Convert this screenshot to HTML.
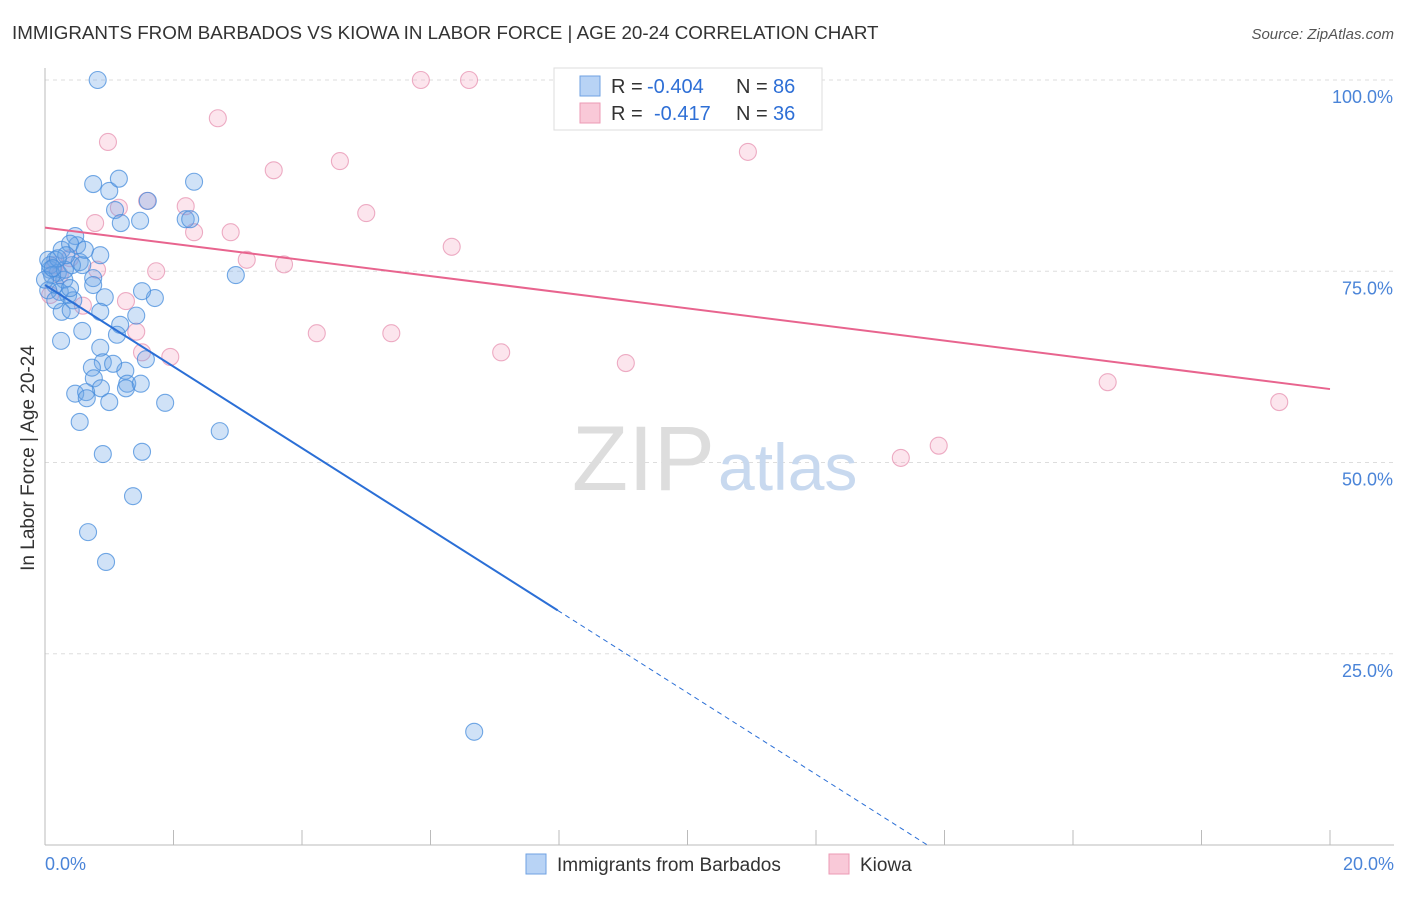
<!DOCTYPE html>
<html><head><meta charset="utf-8"><style>
body{margin:0;background:#fff;font-family:"Liberation Sans",sans-serif}
svg text{font-family:"Liberation Sans",sans-serif}
</style></head><body>
<svg id="chart" width="1406" height="892" xmlns="http://www.w3.org/2000/svg">
<text x="12" y="39" font-size="18.8" fill="#333">IMMIGRANTS FROM BARBADOS VS KIOWA IN LABOR FORCE | AGE 20-24 CORRELATION CHART</text>
<text x="1394" y="39" font-size="15" fill="#555" text-anchor="end" font-style="italic">Source: ZipAtlas.com</text>
<g id="grid"></g>
<text x="715" y="490" font-size="92" fill="#ddd" text-anchor="end" font-family="Liberation Serif">ZIP</text>
<text x="718" y="490" font-size="66" fill="#c8d9ef">atlas</text>
<g id="axes"></g>
<g id="marks"></g>
<text transform="translate(34,458) rotate(-90)" font-size="19" fill="#333" text-anchor="middle">In Labor Force | Age 20-24</text>
<g>
<rect x="554" y="68" width="268" height="62" fill="#fff" stroke="#ddd"/>
<rect x="580" y="76" width="20" height="20" fill="#b8d3f5" stroke="#6fa2e2"/>
<rect x="580" y="103" width="20" height="20" fill="#f9c9d8" stroke="#ec9ab5"/>
<text x="611" y="93" font-size="20" fill="#333">R =</text>
<text x="647" y="93" font-size="20" fill="#2e6fd6">-0.404</text>
<text x="736" y="93" font-size="20" fill="#333">N =</text>
<text x="773" y="93" font-size="20" fill="#2e6fd6">86</text>
<text x="611" y="120" font-size="20" fill="#333">R =</text>
<text x="654" y="120" font-size="20" fill="#2e6fd6">-0.417</text>
<text x="736" y="120" font-size="20" fill="#333">N =</text>
<text x="773" y="120" font-size="20" fill="#2e6fd6">36</text>
</g>
<g>
<rect x="526" y="854" width="20" height="20" fill="#b8d3f5" stroke="#6fa2e2"/>
<text x="557" y="871" font-size="19" fill="#333">Immigrants from Barbados</text>
<rect x="829" y="854" width="20" height="20" fill="#f9c9d8" stroke="#ec9ab5"/>
<text x="860" y="871" font-size="19" fill="#333">Kiowa</text>
</g>
</svg>
<script>
const yTicks=[25,50,75,100];
const yTickLabels=["25.0%","50.0%","75.0%","100.0%"];
const xTickLabels=["0.0%","20.0%"];
const barbadosX=[0.82,0.75,1.00,1.15,1.09,1.60,2.32,2.19,2.26,1.18,1.48,0.47,0.50,0.26,0.39,0.16,0.54,0.08,0.20,0.30,0.42,0.75,0.58,0.86,0.16,0.23,0.36,0.44,0.75,0.93,1.71,1.51,2.97,0.26,0.40,0.86,1.42,0.58,1.17,1.12,0.25,0.86,0.90,1.57,0.73,1.25,1.06,0.76,1.28,1.26,1.49,0.87,0.47,0.64,0.65,1.00,1.87,0.54,2.72,0.90,1.51,1.37,0.67,0.95,6.68,0.05,0.08,0.11,0.05,0.16,0.31,0.39,0.00,0.33,0.62,0.20,0.12];
const barbadosY=[100,86.4,85.5,87.1,83.0,84.2,86.7,81.8,81.8,81.3,81.6,79.6,78.4,77.8,78.6,76.5,76.2,75.2,74.8,73.9,75.8,74.1,75.8,77.1,73.2,72.3,71.9,71.2,73.2,71.6,71.5,72.4,74.5,69.7,69.9,69.7,69.2,67.2,68.0,66.7,65.9,65.0,63.1,63.5,62.4,62.0,62.9,61.0,60.3,59.7,60.3,59.7,59.0,59.2,58.4,57.9,57.8,55.3,54.1,51.1,51.4,45.6,40.9,37.0,14.8,76.5,75.8,74.5,72.5,71.2,75.2,72.8,73.9,77.1,77.8,76.7,75.4];
const kiowaX=[5.85,6.60,2.69,0.98,10.94,4.59,3.56,1.15,1.59,2.19,5.00,0.78,2.32,2.89,6.33,3.14,3.72,0.81,1.73,1.26,0.59,4.23,5.39,1.42,7.10,1.51,1.95,9.04,16.54,19.21,13.91,13.32,0.16,0.23,0.08,0.39];
const kiowaY=[100,100,95.0,91.9,90.6,89.4,88.2,83.3,84.2,83.5,82.6,81.3,80.1,80.1,78.2,76.5,75.9,75.2,75.0,71.1,70.5,66.9,66.9,67.1,64.4,64.4,63.8,63.0,60.5,57.9,52.2,50.6,75.8,74.5,71.9,76.7];
const kiowaTrend=[80.7,59.6];
const barbadosTrend=[73.2,-5.33];
const barbadosSolidEnd=7.98;

const NS="http://www.w3.org/2000/svg";
const X0=45,X1=1330,Y0=845,Y100=80;
const sx=v=>X0+(v/20)*(X1-X0);
const sy=v=>Y0-(v/100)*(Y0-Y100);
function mk(tag,attrs,parent){const e=document.createElementNS(NS,tag);for(const k in attrs)e.setAttribute(k,attrs[k]);parent.appendChild(e);return e;}
const grid=document.getElementById('grid'),axes=document.getElementById('axes'),marks=document.getElementById('marks');
yTicks.forEach((t,i)=>{
  const l=mk('line',{x1:X0,x2:1394,y1:sy(t),y2:sy(t),stroke:'#ddd','stroke-dasharray':'4,4'},grid);
  
  
  const tx=mk('text',{x:1393,y:sy(t)+23,'font-size':18,fill:'#4a84d8','text-anchor':'end'},axes);
  tx.textContent=yTickLabels[i];
  
  
});
mk('line',{x1:X0,x2:X0,y1:68,y2:Y0,stroke:'#bbb'},axes);
mk('line',{x1:X0,x2:1394,y1:Y0,y2:Y0,stroke:'#bbb'},axes);
for(let i=0;i<=10;i++){mk('line',{x1:sx(i*2),x2:sx(i*2),y1:Y0-15,y2:Y0,stroke:'#bbb'},axes);}
xTickLabels.forEach((s,i)=>{
  const tx=mk('text',{x:i?1394:45,y:870,'font-size':18,fill:'#4a84d8','text-anchor':i?'end':'start'},axes);
  tx.textContent=s;
  
  
});
kiowaX.forEach((x,i)=>{
  const c=mk('circle',{cx:sx(x),cy:sy(kiowaY[i]),r:8.5,fill:'rgba(244,170,196,0.3)',stroke:'rgba(230,140,172,0.7)','stroke-width':1.1},marks);
  
  
});
barbadosX.forEach((x,i)=>{
  const c=mk('circle',{cx:sx(x),cy:sy(barbadosY[i]),r:8.5,fill:'rgba(110,165,230,0.32)',stroke:'rgba(70,140,220,0.75)','stroke-width':1.1},marks);
  
  
});
const pl=mk('line',{x1:sx(0),y1:sy(kiowaTrend[0]),x2:sx(20),y2:sy(kiowaTrend[1]),stroke:'#e8648e','stroke-width':2},marks);


const bf=x=>barbadosTrend[0]+barbadosTrend[1]*x;
const bl=mk('line',{x1:sx(0),y1:sy(bf(0)),x2:sx(barbadosSolidEnd),y2:sy(bf(barbadosSolidEnd)),stroke:'#2b6fd6','stroke-width':2},marks);


const xEnd=-barbadosTrend[0]/barbadosTrend[1];
const bd=mk('line',{x1:sx(barbadosSolidEnd),y1:sy(bf(barbadosSolidEnd)),x2:sx(xEnd),y2:sy(0),stroke:'#2b6fd6','stroke-width':1,'stroke-dasharray':'5,4'},marks);


</script>
</body></html>
